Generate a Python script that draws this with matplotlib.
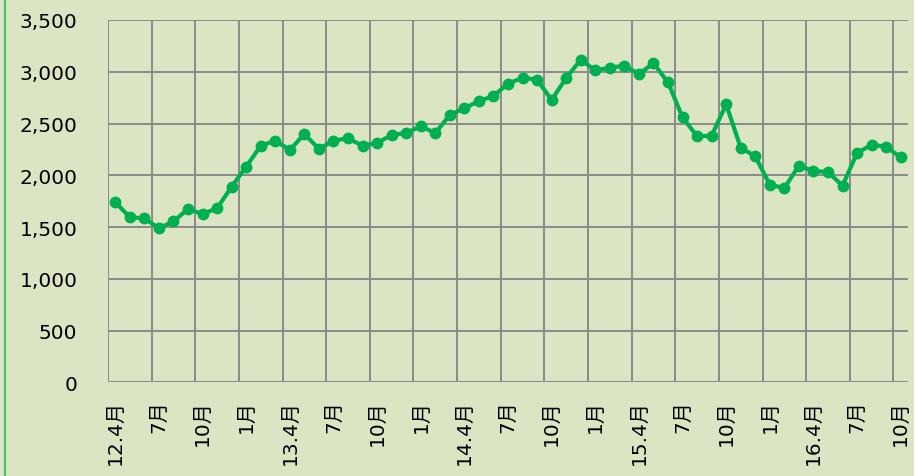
import numpy as np
import matplotlib
matplotlib.use("Agg")
import matplotlib.pyplot as plt
from matplotlib.lines import Line2D
from matplotlib.ticker import FuncFormatter

plt.rcParams['font.family'] = ['DejaVu Sans', 'Noto Sans CJK JP']

# monthly values, 2012.4 - 2016.10
values = [1740, 1594, 1584, 1488, 1555, 1674, 1626, 1681, 1890, 2083,
          2286, 2334, 2244, 2399, 2254, 2334, 2357, 2286, 2312, 2389,
          2408, 2473, 2408, 2582, 2647, 2717, 2766, 2885, 2942, 2923,
          2727, 2940, 3116, 3014, 3039, 3058, 2978, 3082, 2898, 2560,
          2376, 2382, 2685, 2266, 2183, 1909, 1877, 2092, 2041, 2032,
          1899, 2215, 2295, 2276, 2173]
tick_labels = ['12.4月', '7月', '10月', '1月',
               '13.4月', '7月', '10月', '1月',
               '14.4月', '7月', '10月', '1月',
               '15.4月', '7月', '10月', '1月',
               '16.4月', '7月', '10月']

bg = '#dbe5c3'
line_green = '#00b050'
grid_gray = '#8a8a8a'

fig = plt.figure(figsize=(9.14, 4.77), dpi=100, facecolor=bg)
ax = fig.add_axes([0.1182, 0.1964, 0.8752, 0.7596])
ax.set_facecolor(bg)

x = np.arange(len(values))
ax.plot(x, values, color=line_green, linewidth=3, marker='o',
        markersize=7.5, markeredgecolor=line_green, zorder=3)

ax.set_xlim(-0.5, len(values) - 0.5)
ax.set_ylim(0, 3500)
ax.set_yticks(np.arange(0, 3501, 500))
ax.yaxis.set_major_formatter(FuncFormatter(lambda v, p: f'{int(v):,}'))

# gridlines at category boundaries, labels at category centres
ax.set_xticks(np.arange(-0.5, len(values), 3), minor=False)
ax.set_xticklabels([])
ax.set_xticks(np.arange(0, len(values), 3), minor=True)
ax.set_xticklabels(tick_labels, minor=True, rotation=90, fontsize=14.5)
ax.tick_params(axis='x', which='both', length=0)
ax.tick_params(axis='x', which='minor', pad=12)
ax.tick_params(axis='y', length=0, pad=22, labelsize=14.5)

ax.grid(True, which='major', color=grid_gray, linewidth=1.4)
ax.set_axisbelow(True)
for s in ax.spines.values():
    s.set_visible(False)

# green border on the left edge
fig.add_artist(Line2D([5 / 914, 5 / 914], [0, 1], transform=fig.transFigure,
                      color='#3cc85a', linewidth=1.5))

fig.savefig('out.png', dpi=100, facecolor=bg)
